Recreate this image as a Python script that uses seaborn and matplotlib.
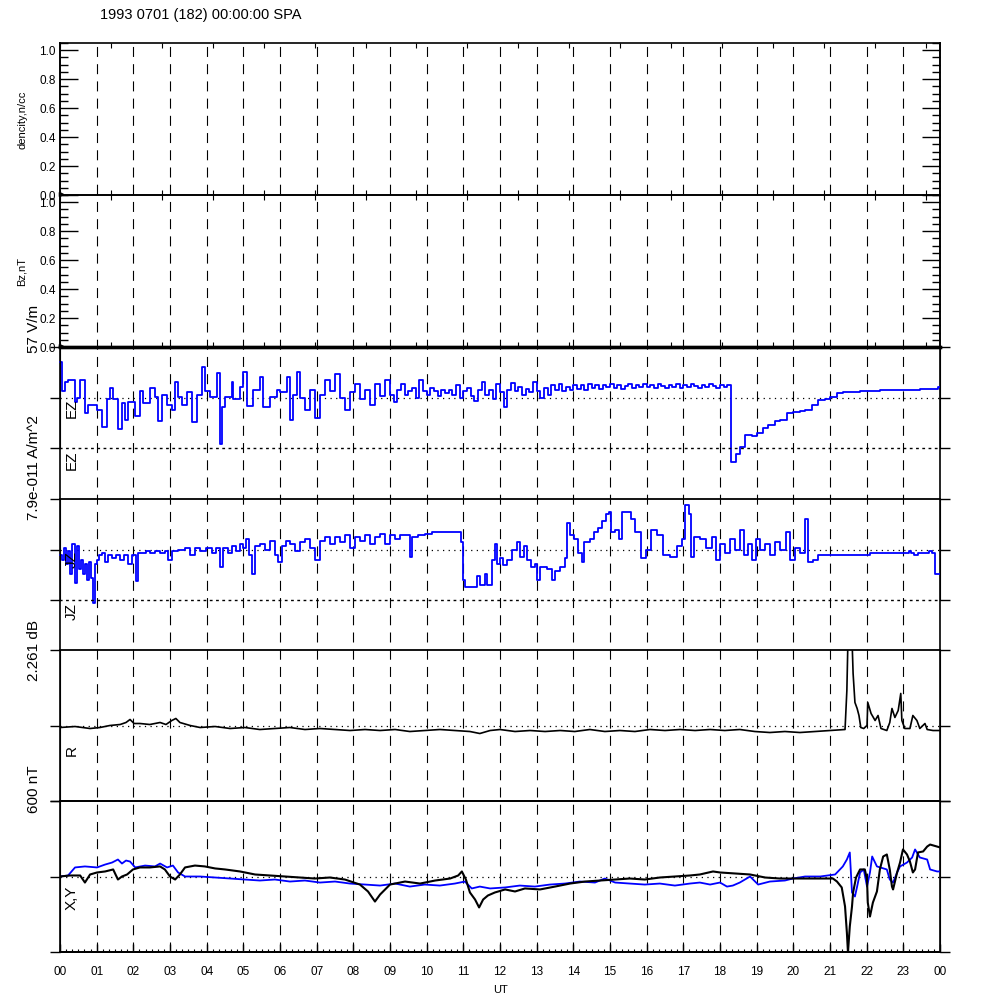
import matplotlib
matplotlib.use("Agg")
import matplotlib.pyplot as plt
from matplotlib.ticker import MultipleLocator, FixedLocator
import seaborn as sns

sns.set_style("ticks", {"axes.edgecolor": "black", "xtick.color": "black",
                        "ytick.color": "black", "text.color": "black"})
plt.rcParams["font.family"] = ["Liberation Sans", "DejaVu Sans"]

# ── Data (hours UT) ──────────────────────────────────────────
title = "1993 0701 (182) 00:00:00 SPA"
hour_labels = [f"{h % 24:02d}" for h in range(25)]

dens_t = [0.03]
dens_v = [0.01]
bz_t = [0.03]
bz_v = [0.01]

# EZ, V/m (panel full scale 57 V/m)
ez_t = [0.00, 0.03, 0.05, 0.14, 0.22, 0.41, 0.46, 0.55, 0.68, 0.76, 1.01, 1.15, 1.28, 1.36, 1.45,
        1.58, 1.69, 1.77, 1.85, 2.05, 2.18, 2.26, 2.45, 2.59, 2.67, 2.78, 2.92, 3.05, 3.14, 3.22,
        3.33, 3.46, 3.60, 3.74, 3.87, 3.95, 4.09, 4.28, 4.36, 4.42, 4.50, 4.69, 4.72, 4.91, 4.99,
        5.10, 5.26, 5.45, 5.54, 5.73, 5.92, 6.00, 6.19, 6.27, 6.35, 6.46, 6.55, 6.68, 6.82, 6.95,
        7.09, 7.23, 7.36, 7.50, 7.64, 7.77, 7.91, 8.04, 8.18, 8.32, 8.45, 8.59, 8.73, 8.86,
        9.0, 9.1, 9.2, 9.3, 9.4, 9.5, 9.6, 9.7, 9.8, 9.9,
        10.0, 10.1, 10.2, 10.3, 10.4, 10.5, 10.6, 10.7, 10.8, 10.9,
        11.0, 11.1, 11.2, 11.3, 11.4, 11.5, 11.6, 11.7, 11.8, 11.9,
        12.0, 12.1, 12.2, 12.3, 12.4, 12.5, 12.6, 12.7, 12.8, 12.9,
        13.0, 13.1, 13.2, 13.3, 13.4, 13.5, 13.6, 13.7, 13.8, 13.9,
        14.0, 14.1, 14.2, 14.3, 14.4, 14.5, 14.6, 14.7, 14.8, 14.9,
        15.0, 15.1, 15.2, 15.3, 15.4, 15.5, 15.6, 15.7, 15.8, 15.9,
        16.0, 16.1, 16.2, 16.3, 16.4, 16.5, 16.6, 16.7, 16.8, 16.9,
        17.0, 17.1, 17.2, 17.3, 17.4, 17.5, 17.6, 17.7, 17.8, 17.9,
        18.0, 18.1, 18.2,
        18.30, 18.44, 18.54, 18.68, 18.87, 19.01, 19.17, 19.31,
        19.50, 19.63, 19.83, 19.99, 20.18, 20.32, 20.51, 20.67, 20.86, 21.00, 21.19, 21.35, 21.82,
        22.36, 22.91, 23.45, 23.94, 24.00]
ez_v = [40, 40, 7, 17, 20, -5, 0, 20, -17, -8, -14, -33, -2, 11, -2,
        -36, -6, -25, -5, -21, 7, -6, 11, 1, -27, 3, -8, -14, 18, 1,
        -8, 6, -28, 3, 34, 7, 1, 28, -53, -11, 1, 17, -2, 12, 29,
        -10, 9, 23, -11, 1, 9, 6, 23, -25, 3, 29, 0, -14, 9, -23,
        3, 20, 7, 26, 0, -14, 6, 15, -2, 9, -8, 15, 2, 20,
        3, -5, 9, 15, 3, 7, 11, 0, 20, 7,
        3, 11, 7, 2, 9, 5, 9, 3, 14, 0,
        7, 11, 2, -4, 9, 18, 3, 9, -2, 15,
        6, -11, 9, 16, 7, 12, 3, 10, 6, 17,
        7, 0, 11, 3, 14, 9, 15, 7, 12, 9,
        14, 10, 14, 9, 15, 11, 14, 10, 14, 12,
        15, 11, 14, 10, 13, 15, 11, 14, 12, 15,
        12, 14, 11, 15, 13, 11, 14, 12, 15, 11,
        14, 12, 15, 13, 11, 14, 12, 15, 13, 11,
        14, 12, 14,
        -73, -64, -56, -42, -44, -40, -34, -31,
        -26, -25, -18, -16, -15, -14, -9, -3, -2, 1, 5, 6, 7,
        8, 9, 10, 12, 12]

# JZ, 1e-11 A/m^2 (panel full scale 7.9e-11)
jz_t = [0.00, 0.05, 0.11, 0.16, 0.22, 0.27, 0.33, 0.41, 0.46, 0.52, 0.57, 0.63, 0.68, 0.74, 0.79,
        0.85, 0.90, 0.95, 1.01, 1.06, 1.15, 1.23, 1.31, 1.42, 1.53, 1.64, 1.75, 1.85, 1.96, 2.07,
        2.13, 2.24, 2.35, 2.45, 2.59, 2.73, 2.86, 2.95, 3.05, 3.22, 3.41, 3.55, 3.68, 3.82, 3.98,
        4.15, 4.25, 4.36, 4.45, 4.58, 4.69, 4.80, 4.91, 4.99, 5.07, 5.15, 5.24, 5.32, 5.45, 5.59,
        5.73, 5.86, 5.94, 6.05, 6.16, 6.27, 6.41, 6.54, 6.68, 6.82, 6.95, 7.09, 7.23, 7.36, 7.50,
        7.64, 7.77, 7.91, 8.04, 8.18, 8.32, 8.45, 8.59, 8.73, 8.86, 9.00, 9.14, 9.27, 9.41, 9.54,
        9.60, 9.76, 9.95, 10.14, 10.36, 10.64, 10.77, 10.94, 10.99, 11.04, 11.18, 11.37, 11.45,
        11.59, 11.64, 11.78, 11.86, 11.92, 12.00, 12.08, 12.19, 12.33, 12.46, 12.54, 12.65, 12.74,
        12.84, 12.95, 13.01, 13.09, 13.28, 13.42, 13.50, 13.64, 13.77, 13.83, 13.91, 14.02, 14.13,
        14.24, 14.29, 14.45, 14.56, 14.67, 14.78, 14.89, 14.97, 15.03, 15.14, 15.25, 15.33, 15.49,
        15.57, 15.68, 15.84, 15.97, 16.12, 16.28, 16.44, 16.64, 16.83, 16.96, 17.04, 17.15, 17.21,
        17.29, 17.45, 17.62, 17.78, 17.89, 18.00, 18.13, 18.27, 18.41, 18.54, 18.65, 18.76, 18.87,
        18.98, 19.09, 19.23, 19.36, 19.50, 19.63, 19.80, 19.91, 20.04, 20.18, 20.32, 20.40, 20.53,
        20.67, 20.86, 21.41, 22.09, 23.15, 23.21, 23.29, 23.40, 23.70, 23.78, 23.86, 24.00]
jz_v = [-0.8, -1.6, 0.3, -2.3, -0.3, -3.9, 0.8, -5.2, 0.5, -3.1, -1.6, -3.9, -2.3, -4.7, -1.9,
        -4.4, -8.3, -2.3, -1.6, -0.8, -0.5, -1.9, -0.9, -1.3, -0.8, -1.6, -0.9, -2.3, -0.8, -5.0,
        -0.5, -0.6, -0.3, -0.5, -0.2, -0.5, -0.3, -1.6, -0.2, 0.0, 0.2, -0.9, 0.2, -0.2, 0.3,
        -0.6, 0.2, -2.8, 0.3, -0.5, 0.5, -0.3, 0.8, 0.3, 1.6, -0.9, -3.9, 0.6, 0.9, 0.0,
        1.3, -0.8, -1.9, 0.6, 1.4, 0.8, -0.3, 1.1, 1.6, 0.3, -1.6, 1.3, 1.9, 0.8, 2.0,
        1.1, 2.2, 0.3, 1.9, 1.3, 2.2, 0.8, 2.0, 2.5, 0.8, 2.2, 1.6, 2.3, 2.3, -1.1,
        1.9, 2.2, 2.5, 2.7, 2.7, 2.8, 2.7, 1.1, -4.7, -5.9, -5.8, -4.2, -5.5,
        -3.9, -5.5, -1.6, 0.8, -2.3, -1.3, -2.5, -1.6, 0.0, 1.1, -1.1, 0.5, -1.6,
        -2.8, -2.3, -4.7, -2.8, -3.1, -4.7, -3.4, -2.7, -1.3, 4.2, 2.3, 1.6, -0.5,
        -2.0, 1.1, 1.6, 2.8, 3.4, 4.4, 5.5, 5.8, 2.8, 3.1, 1.6, 5.9, 5.9,
        4.7, 2.8, -1.3, 0.0, 3.1, 2.3, -0.8, -1.1, 0.5, 1.6, 7.0, 5.5, -1.1,
        2.0, 1.6, 0.3, 1.9, -1.6, 0.8, -0.5, 1.6, 0.0, 3.1, -0.8, 0.8, -1.6,
        1.6, 0.0, 0.8, -0.8, 1.1, 0.0, 2.8, -1.6, 0.3, -0.5, 4.7, -2.0, -1.6,
        -0.9, -0.8, -0.8, -0.6, -0.2, -0.6, -0.9, -0.6, -0.2, -0.6, -3.9, -3.9]

# R, dB (panel full scale 2.261 dB)
r_t = [0.00, 0.41, 0.82, 1.09, 1.36, 1.64, 1.80, 1.91, 2.02, 2.18, 2.45, 2.73, 2.89, 3.05, 3.16,
       3.27, 3.55, 3.82, 4.23, 4.64, 5.04, 5.45, 5.86, 6.27, 6.68, 7.09, 7.50, 7.91, 8.32, 8.73,
       9.14, 9.54, 9.95, 10.36, 10.77, 11.18, 11.45, 11.73, 12.00, 12.41, 12.82, 13.23, 13.64,
       14.04, 14.45, 14.86, 15.27, 15.68, 16.09, 16.50, 16.91, 17.32, 17.73, 18.13, 18.54, 18.95,
       19.36, 19.77, 20.18, 20.59, 21.00, 21.41, 21.46, 21.49, 21.60, 21.63, 21.68, 21.74, 21.79,
       21.84, 21.92, 22.01, 22.03, 22.12, 22.23, 22.31, 22.39, 22.55, 22.63, 22.69, 22.77, 22.86,
       22.93, 22.96, 23.04, 23.18, 23.26, 23.37, 23.45, 23.59, 23.65, 23.81, 24.00]
r_v = [-0.06, -0.03, -0.09, -0.06, 0.00, 0.03, 0.09, 0.18, 0.06, 0.06, 0.03, 0.09, 0.03, 0.15, 0.21,
       0.09, 0.00, -0.06, -0.03, -0.09, -0.06, -0.12, -0.09, -0.06, -0.12, -0.09, -0.12, -0.15, -0.12, -0.15,
       -0.12, -0.18, -0.15, -0.12, -0.15, -0.18, -0.24, -0.15, -0.12, -0.18, -0.15, -0.18, -0.15,
       -0.18, -0.12, -0.18, -0.15, -0.18, -0.12, -0.15, -0.12, -0.15, -0.12, -0.15, -0.12, -0.18,
       -0.21, -0.18, -0.21, -0.18, -0.15, -0.12, 1.05, 2.60, 2.60, 1.56, 0.69, 0.51, 0.30,
       -0.06, -0.09, 0.00, 0.69, 0.36, 0.15, 0.30, -0.09, -0.15, 0.09, 0.51, 0.24, 0.45,
       0.96, 0.15, -0.09, -0.09, 0.30, 0.15, -0.09, 0.06, -0.12, -0.15, -0.15]

# X (black) and Y (blue), nT (panel full scale 600 nT)
x_t = [0.00, 0.27, 0.55, 0.68, 0.82, 1.01, 1.23, 1.45, 1.58, 1.69, 1.83, 1.99, 2.18, 2.45, 2.73,
       2.86, 3.00, 3.14, 3.27, 3.41, 3.68, 3.95, 4.23, 4.50, 4.91, 5.32, 5.73, 6.14, 6.54, 6.95,
       7.36, 7.77, 8.18, 8.40, 8.59, 8.73, 9.00, 9.41, 9.82, 10.23, 10.64, 10.86, 10.96, 11.07,
       11.18, 11.32, 11.43, 11.54, 11.67, 11.86, 12.14, 12.41, 12.68, 13.09, 13.50, 13.91, 14.32,
       14.73, 15.14, 15.54, 15.95, 16.36, 16.77, 17.18, 17.45, 17.81, 18.00, 18.41, 18.82, 19.23,
       19.63, 20.18, 20.73, 21.08, 21.19, 21.32, 21.41, 21.46, 21.49, 21.54, 21.60, 21.63, 21.71,
       21.82, 21.95, 22.01, 22.03, 22.09, 22.17, 22.28, 22.36, 22.45, 22.55, 22.63, 22.69, 22.72,
       22.83, 22.91, 22.99, 23.10, 23.18, 23.26, 23.32, 23.40, 23.54, 23.65, 23.73, 23.92, 24.00]
x_v = [0, 8, 8, -48, 16, 32, 40, 56, -24, 0, 16, 56, 72, 72, 80,
       56, 0, -24, 16, 72, 87, 80, 64, 56, 40, 16, 8, 0, -8, -16,
       -8, -24, -64, -119, -199, -143, -64, -40, -56, -32, -16, 8, 40, -24,
       -127, -183, -246, -183, -151, -127, -103, -119, -95, -103, -80, -56, -40,
       -32, -24, -16, -24, -8, 0, 8, 16, 40, 32, 24, 16, -8,
       -16, -16, -16, -16, -40, -87, -238, -445, -604, -397, -238, -127, -8,
       56, 56, -24, -207, -318, -207, -119, 56, 159, 175, 56, -80, -103,
       32, 111, 215, 175, 119, 32, 56, 191, 199, 238, 254, 238, 231]

y_t = [0.00, 0.22, 0.41, 0.68, 1.01, 1.23, 1.42, 1.58, 1.69, 1.80, 1.91, 2.05, 2.32, 2.59, 2.73,
       2.92, 3.08, 3.22, 3.41, 3.82, 4.23, 4.64, 5.04, 5.45, 5.86, 6.27, 6.68, 7.09, 7.50, 7.91,
       8.32, 8.73, 9.14, 9.54, 9.95, 10.36, 10.77, 11.04, 11.23, 11.45, 11.73, 12.14, 12.54, 12.95,
       13.36, 13.77, 14.18, 14.59, 14.86, 15.14, 15.54, 15.95, 16.36, 16.77, 17.18, 17.45, 17.73,
       18.00, 18.19, 18.35, 18.54, 18.82, 19.04, 19.36, 19.77, 19.99, 20.32, 20.73, 21.14, 21.35,
       21.46, 21.54, 21.60, 21.68, 21.74, 21.82, 21.92, 22.01, 22.09, 22.15, 22.28, 22.55, 22.63,
       22.72, 22.83, 22.91, 23.10, 23.24, 23.32, 23.45, 23.65, 23.73, 23.92, 24.00]
y_v = [0, 8, 72, 80, 72, 95, 111, 135, 103, 127, 119, 72, 87, 80, 103,
       72, 87, 32, 0, 0, -8, -16, -24, -32, -24, -40, -32, -48, -40, -56,
       -64, -72, -56, -80, -64, -72, -56, -40, -95, -80, -95, -87, -72, -80,
       -64, -56, -40, -48, -16, -48, -56, -64, -56, -72, -56, -48, -64,
       -48, -80, -72, -48, 0, -64, -40, -32, -16, 0, 0, 16, 80,
       135, 191, -127, -159, -80, 32, 56, -80, 32, 159, 80, 56, -24,
       -48, 32, 80, 111, 151, 215, 151, 135, 56, 40, 40]

# ── Layout helpers (pixel rows of the 1000 px figure) ────────
fig = plt.figure(figsize=(10, 10), dpi=100, facecolor="white")
X0, X1 = 60, 940


def panel(top, bottom):
    ax = fig.add_axes([X0 / 1000, 1 - bottom / 1000, (X1 - X0) / 1000, (bottom - top) / 1000])
    ax.set_facecolor("none")
    ax.set_xlim(0, 24)
    return ax


dash = (0, (9, 6.5))
dots = (0, (1, 3.5))

# background frame: side lines, hour grid, UT axis
bg = panel(43, 952)
bg.set_ylim(0, 1)
bg.spines["top"].set_visible(False)
for s in ("left", "right", "bottom"):
    bg.spines[s].set_linewidth(1.2)
for h in range(1, 24):
    bg.axvline(h, color="black", lw=0.8, ls=dash)
bg.axhline(0, color="black", lw=1.4, ls="-", clip_on=False, zorder=5)
bg.set_yticks([])
bg.xaxis.set_major_locator(FixedLocator(range(25)))
bg.xaxis.set_minor_locator(MultipleLocator(1 / 6))
bg.set_xticklabels(hour_labels, fontsize=8.5)
bg.tick_params(axis="x", which="major", direction="in", length=6, width=1, pad=10)
bg.tick_params(axis="x", which="minor", direction="in", length=2.5, width=0.8)


def scalar_panel(top, bottom, t, v, label, label_y):
    ax = panel(top, bottom)
    ax.set_ylim(0, 1.05)
    ax.plot(t, v, marker=">", ms=3, color="black", ls="none", clip_on=False)
    ax.yaxis.set_major_locator(MultipleLocator(0.2))
    ax.yaxis.set_minor_locator(MultipleLocator(0.05))
    ax.xaxis.set_major_locator(MultipleLocator(5000 / 3600))
    ax.tick_params(axis="y", which="major", direction="in", length=13, width=1,
                   left=True, right=True, labelsize=8.5, pad=3)
    ax.tick_params(axis="y", which="minor", direction="in", length=5.8, width=1,
                   left=True, right=True)
    ax.tick_params(axis="x", direction="in", length=3.6, top=True, bottom=True,
                   labelbottom=False)
    for s in ax.spines.values():
        s.set_linewidth(1.2)
    fig.text(0.022, 1 - label_y / 1000, label, rotation=90, fontsize=8,
             ha="center", va="center")
    return ax


ax_n = scalar_panel(43, 195, dens_t, dens_v, "dencity,n/cc", 120)
ax_b = scalar_panel(195, 347, bz_t, bz_v, "Bz,nT", 272)
ax_b.spines["bottom"].set_linewidth(2.4)


def trace_panel(top, bottom, lim, bottom_dotted):
    ax = panel(top, bottom)
    ax.set_ylim(-lim, lim)
    ax.set_yticks([-lim, 0, lim])
    ax.set_yticklabels([])
    ax.set_xticks([])
    ax.tick_params(axis="y", direction="out", length=7, width=1, left=True, right=True)
    ax.axhline(0, color="black", lw=0.9, ls=dots)
    ax.spines["top"].set_linewidth(1.3)
    if bottom_dotted:
        ax.spines["bottom"].set_linestyle(dots)
        ax.spines["bottom"].set_linewidth(1.0)
    else:
        ax.spines["bottom"].set_linewidth(1.3)
    return ax


# EZ
ax_ez = trace_panel(347, 448, 57, True)
ax_ez.spines["top"].set_linewidth(2.4)
sns.lineplot(x=ez_t, y=ez_v, ax=ax_ez, color="blue", lw=1.3, drawstyle="steps-post",
             clip_on=False, legend=False)
ax_ez.set_xlim(0, 24)
ax_ez.set_ylim(-57, 57)

# JZ
ax_jz = trace_panel(499, 600, 7.9, True)
sns.lineplot(x=jz_t, y=jz_v, ax=ax_jz, color="blue", lw=1.3, drawstyle="steps-post",
             clip_on=False, legend=False)
ax_jz.set_xlim(0, 24)
ax_jz.set_ylim(-7.9, 7.9)

# R
ax_r = trace_panel(650, 801, 2.261, False)
sns.lineplot(x=r_t, y=r_v, ax=ax_r, color="black", lw=1.2, legend=False)
ax_r.set_xlim(0, 24)
ax_r.set_ylim(-2.261, 2.261)

# X, Y
ax_xy = trace_panel(801, 952, 600, False)
sns.lineplot(x=y_t, y=y_v, ax=ax_xy, color="blue", lw=1.3, legend=False)
sns.lineplot(x=x_t, y=x_v, ax=ax_xy, color="black", lw=1.5, legend=False)
ax_xy.set_xlim(0, 24)
ax_xy.set_ylim(-600, 600)

# ── Texts ────────────────────────────────────────────────────
fig.text(0.100, 1 - 15 / 1000, title, fontsize=10.5, ha="left", va="center")
fig.text(0.500, 1 - 990 / 1000, "UT", fontsize=8, ha="center", va="center")

side = [("57 V/m", 353), ("7.9e-011 A/m^2", 520), ("2.261 dB", 681), ("600 nT", 813)]
for txt, y in side:
    fig.text(0.034, 1 - y / 1000, txt, rotation=90, fontsize=11, ha="center", va="bottom")

inner = [("EZ", 399), ("EZ", 450), ("JZ", 551), ("JZ", 603), ("R", 745), ("X,Y", 886)]
for txt, y in inner:
    fig.text(0.072, 1 - y / 1000, txt, rotation=90, fontsize=11, ha="center", va="top")

plt.savefig("out.png", dpi=100, facecolor="white")
plt.close()
